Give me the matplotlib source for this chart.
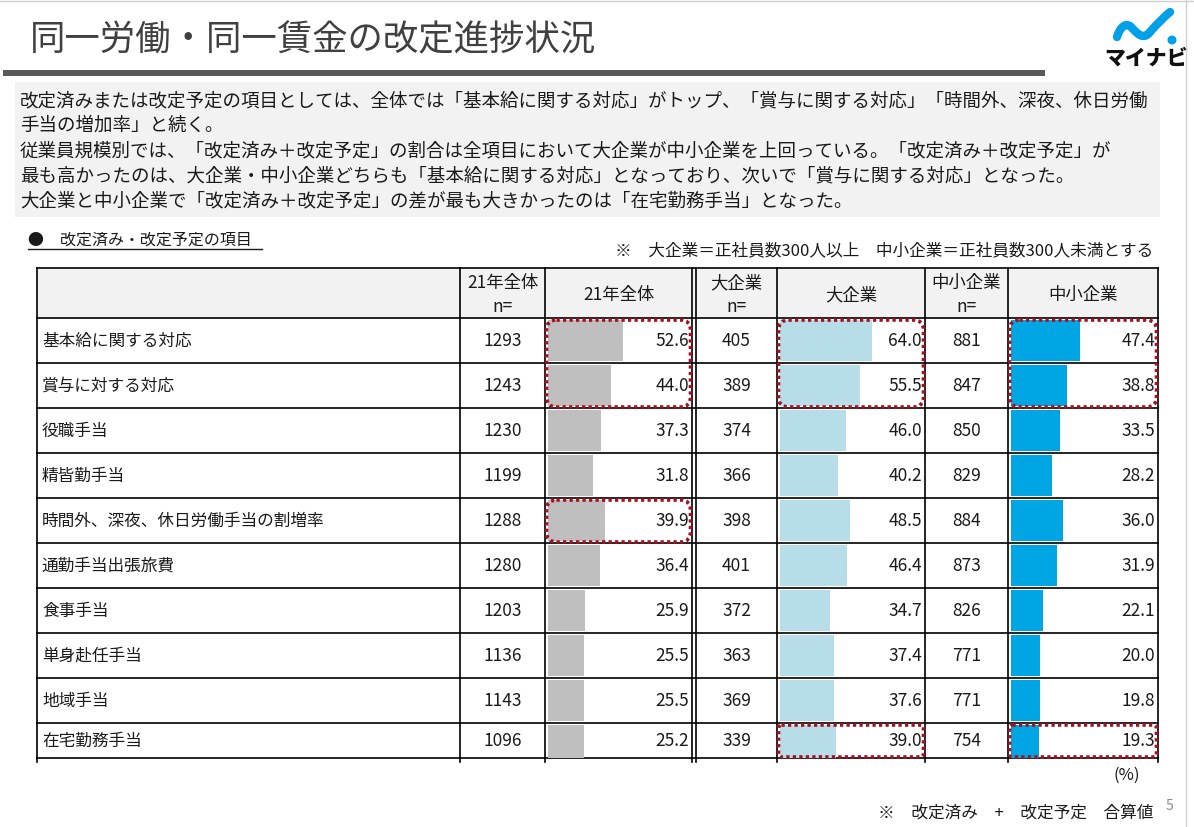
import numpy as np
import matplotlib.pyplot as plt
from matplotlib.patches import Rectangle, FancyBboxPatch, Circle, PathPatch
from matplotlib.path import Path

plt.rcParams['font.family'] = ['Noto Sans CJK JP', 'DejaVu Sans']

# data
items = ['基本給に関する対応', '賞与に対する対応', '役職手当', '精皆勤手当',
         '時間外、深夜、休日労働手当の割増率', '通勤手当出張旅費', '食事手当',
         '単身赴任手当', '地域手当', '在宅勤務手当']
n_total = [1293, 1243, 1230, 1199, 1288, 1280, 1203, 1136, 1143, 1096]
pct_total = [52.6, 44.0, 37.3, 31.8, 39.9, 36.4, 25.9, 25.5, 25.5, 25.2]
n_large = [405, 389, 374, 366, 398, 401, 372, 363, 369, 339]
pct_large = [64.0, 55.5, 46.0, 40.2, 48.5, 46.4, 34.7, 37.4, 37.6, 39.0]
n_small = [881, 847, 850, 829, 884, 873, 826, 771, 771, 754]
pct_small = [47.4, 38.8, 33.5, 28.2, 36.0, 31.9, 22.1, 20.0, 19.8, 19.3]

body_lines = [
    '改定済みまたは改定予定の項目としては、全体では「基本給に関する対応」がトップ、「賞与に関する対応」「時間外、深夜、休日労働',
    '手当の増加率」と続く。',
    '従業員規模別では、「改定済み＋改定予定」の割合は全項目において大企業が中小企業を上回っている。「改定済み＋改定予定」が',
    '最も高かったのは、大企業・中小企業どちらも「基本給に関する対応」となっており、次いで「賞与に関する対応」となった。',
    '大企業と中小企業で「改定済み＋改定予定」の差が最も大きかったのは「在宅勤務手当」となった。',
]

W, H = 1194, 828
fig = plt.figure(figsize=(W / 100, H / 100), dpi=100)
bg = fig.add_axes([0, 0, 1, 1])
bg.set_xlim(0, W)
bg.set_ylim(H, 0)
bg.axis('off')

dark = '#1a1a1a'

# frame lines
bg.plot([0, W], [2, 2], color='#d0d0d0', lw=1)
bg.plot([1186, 1186], [0, H], color='#d0d0d0', lw=1)

# title + rule
bg.text(30, 40, '同一労働・同一賃金の改定進捗状況', fontsize=25.5, color='#404040', va='center')
bg.add_patch(Rectangle((3, 71), 1042, 6, color='#595959', lw=0))

# logo
verts = [(1117, 38), (1120, 28), (1126, 23), (1131, 28),
         (1137, 34), (1143, 42), (1150, 33),
         (1157, 25), (1164, 18), (1170, 13)]
codes = [Path.MOVETO] + [Path.CURVE4] * 9
bg.add_patch(PathPatch(Path(verts, codes), fill=False, ec='#00a0e9', lw=6,
                       capstyle='round', joinstyle='round'))
bg.add_patch(Circle((1172, 41), 4.5, color='#00a0e9', lw=0))
bg.text(1146, 59, 'マイナビ', fontsize=15, fontweight='heavy', ha='center', va='center', color='#111111')

# summary box
bg.add_patch(Rectangle((15, 83), 1145, 135, color='#f2f2f2', lw=0))
for k, line in enumerate(body_lines):
    bg.text(20, 101 + k * 25.2, line, fontsize=13.3, color=dark, va='center')

# sub heading + note
bg.text(28, 240, '●　改定済み・改定予定の項目', fontsize=11.5, color=dark, va='center')
bg.plot([28, 262], [250, 250], color=dark, lw=1)
bg.text(1153, 251, '※　大企業＝正社員数300人以上　中小企業＝正社員数300人未満とする',
        fontsize=12, color=dark, ha='right', va='center')

# table layout
top, head_bot, row_h = 269, 319, 45
n_rows = len(items)
tbl_bot = head_bot + row_h * (n_rows - 1) + 35
row_tops = [head_bot + row_h * i for i in range(n_rows)]
row_bots = row_tops[1:] + [tbl_bot]
row_mid = [(a + b) / 2 for a, b in zip(row_tops, row_bots)]

cells = {
    'label': (37, 460), 'n1': (460, 545), 'b1': (545, 692),
    'n2': (696, 777), 'b2': (777, 925), 'n3': (925, 1008), 'b3': (1008, 1158),
}
left, right = 37, 1158

bg.add_patch(Rectangle((left, top), right - left, head_bot - top, color='#f2f2f2', lw=0))
for y in [top, head_bot] + row_bots:
    bg.plot([left, right], [y, y], color='black', lw=1.2)
for x in [37, 460, 545, 692, 696, 777, 925, 1008, 1158]:
    bg.plot([x, x], [top, tbl_bot + 4], color='black', lw=1.2)

hfs = 12.5
for key, name in [('n1', '21年全体'), ('n2', '大企業'), ('n3', '中小企業')]:
    x0, x1 = cells[key]
    bg.text((x0 + x1) / 2, 283, name, fontsize=hfs, ha='center', va='center', color=dark)
    bg.text((x0 + x1) / 2, 307, 'n=', fontsize=hfs, ha='center', va='center', color=dark)
for key, name in [('b1', '21年全体'), ('b2', '大企業'), ('b3', '中小企業')]:
    x0, x1 = cells[key]
    bg.text((x0 + x1) / 2, 295, name, fontsize=hfs, ha='center', va='center', color=dark)

for i, name in enumerate(items):
    bg.text(42, row_mid[i], name, fontsize=12, va='center', color=dark)

groups = [('n1', 'b1', n_total, pct_total, '#bfbfbf'),
          ('n2', 'b2', n_large, pct_large, '#b7dde8'),
          ('n3', 'b3', n_small, pct_small, '#00a6e4')]
for nkey, bkey, nvals, pvals, color in groups:
    nx0, nx1 = cells[nkey]
    bx0, bx1 = cells[bkey]
    for i in range(n_rows):
        bg.text((nx0 + nx1) / 2, row_mid[i], str(nvals[i]), fontsize=12.5,
                ha='center', va='center', color=dark)
        bg.text(bx1 - 3, row_mid[i], f'{pvals[i]:.1f}', fontsize=12.5,
                ha='right', va='center', color=dark)
    ax = fig.add_axes([bx0 / W, 1 - tbl_bot / H, (bx1 - bx0) / W, (tbl_bot - head_bot) / H])
    ax.barh(np.arange(n_rows), pvals, height=0.9, color=color)
    ax.set_xlim(-2, 101)
    ax.set_ylim(-0.5 + (tbl_bot - head_bot) / row_h, -0.5)
    ax.axis('off')
    ax.patch.set_alpha(0)

# highlight frames on top of the bars (cell key, first row, last row)
ov = fig.add_axes([0, 0, 1, 1])
ov.set_xlim(0, W)
ov.set_ylim(H, 0)
ov.axis('off')
ov.patch.set_alpha(0)
highlights = [('b1', 0, 1), ('b2', 0, 1), ('b3', 0, 1), ('b1', 4, 4), ('b2', 9, 9), ('b3', 9, 9)]
for key, r0, r1 in highlights:
    x0, x1 = cells[key]
    y0, y1 = row_tops[r0] + 2, row_bots[r1] - 1
    rs = 10 if r0 < 9 else 3
    ov.add_patch(FancyBboxPatch((x0 + 1.5, y0), x1 - x0 - 3, y1 - y0,
                                boxstyle=f'round,pad=0,rounding_size={rs}',
                                fill=False, ec='#a50f1f', lw=2.6, ls=(0, (0.9, 0.9)),
                                capstyle='butt'))

bg.text(1127, 775, '(%)', fontsize=12, ha='center', va='center', color=dark)
bg.text(1153, 813, '※　改定済み　+　改定予定　合算値', fontsize=12, ha='right', va='center', color=dark)
bg.text(1166, 806, '5', fontsize=10, ha='left', va='center', color='#8c8c8c')

fig.savefig('out.png', dpi=100)
